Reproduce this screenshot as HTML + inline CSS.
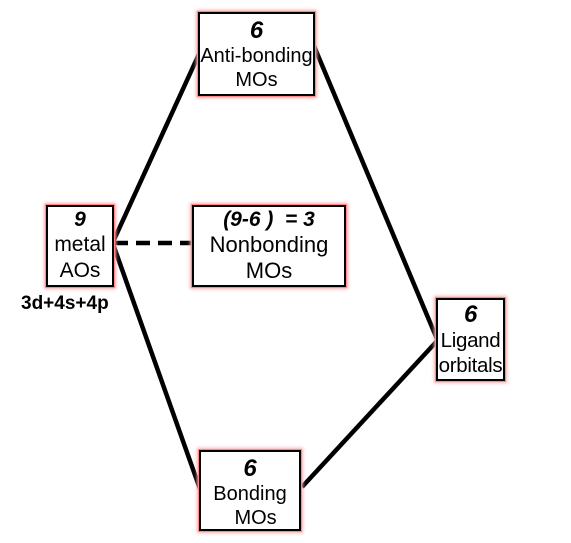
<!DOCTYPE html>
<html><head><style>
body{margin:0;width:571px;height:543px;background:#fff;position:relative;overflow:hidden;font-family:"Liberation Sans",sans-serif;}
.b{position:absolute;box-sizing:border-box;border:2px solid #000;background:#fff;box-shadow:0 0 0 1px #f88,0 0 3px 2px #faa;text-align:center;color:#000;font-size:20px;line-height:24px;white-space:nowrap;}
.n{font-weight:bold;font-style:italic;font-size:24px;line-height:26px;display:block;}
svg{position:absolute;left:0;top:0;}
</style></head><body>
<svg width="571" height="543">
<g stroke="#000" stroke-width="4.5" fill="none">
<line x1="113" y1="242" x2="199" y2="54"/>
<line x1="314" y1="46" x2="437" y2="339"/>
<line x1="113" y1="244" x2="200" y2="489"/>
<line x1="302" y1="487" x2="437" y2="341"/>
<line x1="114" y1="243" x2="193" y2="243" stroke-dasharray="14,8"/>
</g>
</svg>
<div class="b" style="left:198px;top:12px;width:117px;height:84px;padding-top:4px;letter-spacing:0px"><span class="n">6</span>Anti-bonding<br>MOs</div>
<div class="b" style="left:46px;top:205px;width:68px;height:82px;padding-top:1px;line-height:26px;font-size:21px"><span class="n" style="font-size:21px;line-height:24px">9</span>metal<br>AOs</div>
<div class="b" style="left:192px;top:205px;width:154px;height:82px;padding-top:1px;line-height:26px;font-size:22px"><span class="n" style="font-size:21px;line-height:24px">(9-6 )&nbsp; = 3</span>Nonbonding<br>MOs</div>
<div style="position:absolute;left:21px;top:293px;font-weight:bold;font-size:19px">3d+4s+4p</div>
<div class="b" style="left:436px;top:298px;width:69px;height:83px;padding-top:2px;line-height:25px;font-size:20.5px;letter-spacing:-0.3px"><span class="n">6</span>Ligand<br>orbitals</div>
<div class="b" style="left:199px;top:450px;width:102px;height:81px;padding-top:4px"><span class="n">6</span>Bonding<br>&nbsp;&nbsp;MOs</div>
</body></html>
